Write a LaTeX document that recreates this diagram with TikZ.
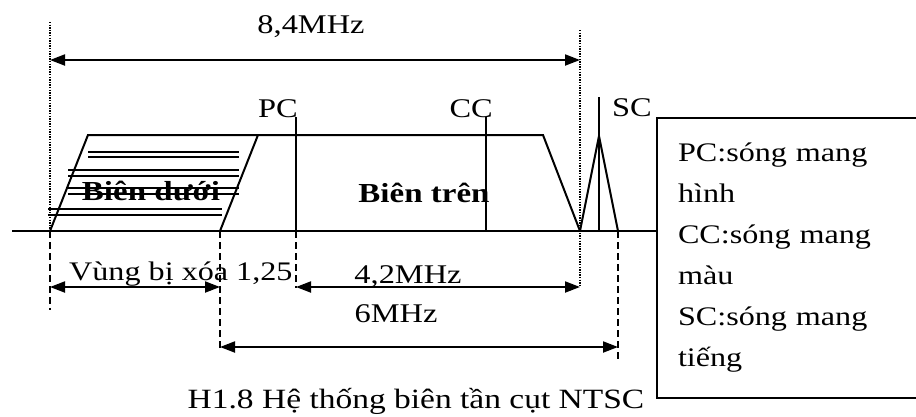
\documentclass[tikz,border=0pt]{standalone}
\usepackage{fontspec}
\setmainfont{Liberation Serif}[FakeStretch=1.2]
\usepackage{tikz}
\usetikzlibrary{arrows.meta, positioning}

\begin{document}
\begin{tikzpicture}[x=1pt, y=-1pt]
        \tikzstyle{band} = [draw, line width=2pt, line join=miter]
        \tikzstyle{hatch} = [draw, line width=2pt]
        \tikzstyle{guide} = [draw, line width=1.6pt, dash pattern=on 7pt off 4pt]
        \tikzstyle{edge} = [draw, line width=1.5pt, dash pattern=on 1.3pt off 1.3pt]
        \tikzstyle{dim} = [draw, line width=2pt, {Triangle[length=15pt,width=11pt]}-{Triangle[length=15pt,width=11pt]}]
        \tikzstyle{lbl} = [inner sep=0pt, font=\fontsize{27}{32}\selectfont]
        \tikzstyle{bold} = [inner sep=0pt, font=\fontsize{27.5}{32}\selectfont\bfseries]

        \useasboundingbox (0,0) rectangle (916,416);
        \clip (0,0) rectangle (916,416);

        % Points on the axis
        \coordinate (axisL) at (12,231);
        \coordinate (lo) at (50,231);
        \coordinate (vsb) at (220,231);
        \coordinate (pc) at (296,231);
        \coordinate (cc) at (486,231);
        \coordinate (up) at (580,231);
        \coordinate (sc) at (599,231);
        \coordinate (sce) at (618,231);

        % Legend box
        \node [draw, line width=2pt, anchor=north west, minimum width=292pt, minimum height=280pt, text width=250pt, inner xsep=21pt, align=left, font=\fontsize{26.8}{41}\selectfont] (legend) at (656,117) {PC:sóng mang\\hình\\CC:sóng mang\\màu\\SC:sóng mang\\tiếng};

        % Spectrum
        \path [band] (axisL) -- (axisL -| legend.west);
        \path [band] (lo) -- (88,135) -- (543,135) -- (up);
        \path [band] (vsb) -- (258,135);
        \path [band] (up) -- (599,136) -- (sce);
        \path [band] (sc) -- (599,97);
        \path [band] (pc) -- (296,117);
        \path [band] (cc) -- (486,117);

        % Lower sideband hatching
        \foreach \yy/\xa/\xb in {154.5/88/239, 173/68/239, 191/68/239, 212/48/222}
        {
            \path [hatch] (\xa,\yy-2.8) -- (\xb,\yy-2.8);
            \path [hatch] (\xa,\yy+2.8) -- (\xb,\yy+2.8);
        }

        % Labels
        \node [lbl, anchor=base east] (pcl) at (298,117) {PC};
        \node [lbl, anchor=base east] (ccl) at (493,117) {CC};
        \node [lbl, anchor=base west] (scl) at (612,116) {SC};
        \node [bold, anchor=base] (lsb) at (151,200) {Biên dưới};
        \node [bold, anchor=base] (usb) at (424,202) {Biên trên};

        % Guide lines
        \coordinate (top1) at (50,22);
        \coordinate (top2) at (580,30);
        \coordinate (g1) at (50,310);
        \coordinate (g2) at (220,348);
        \coordinate (g3) at (296,288);
        \coordinate (g4) at (580,287);
        \coordinate (g5) at (618,362);
        \path [edge] (top1) -- (lo);
        \path [edge] (top2) -- (g4);
        \path [guide] (lo) -- (g1);
        \path [guide] (vsb) -- (g2);
        \path [guide] (pc) -- (g3);
        \path [guide] (sce) -- (g5);

        % Dimensions
        \path [dim] (50,60) -- (580,60);
        \path [dim] (50,287) -- (220,287);
        \path [dim] (296,287) -- (g4);
        \path [dim] (220,347) -- (618,347);
        \node [lbl, anchor=base] (w84) at (311,33) {8,4MHz};
        \node [lbl, anchor=base west, font=\fontsize{26.8}{32}\selectfont] (vung) at (69,280) {Vùng bị xóa 1,25};
        \node [lbl, anchor=base] (w42) at (408,283) {4,2MHz};
        \node [lbl, anchor=base] (w6) at (396,322) {6MHz};
        \node [lbl, anchor=base, font=\fontsize{27.9}{33}\selectfont] (caption) at (416,408) {H1.8 Hệ thống biên tần cụt NTSC};
    \end{tikzpicture}
\end{document}
